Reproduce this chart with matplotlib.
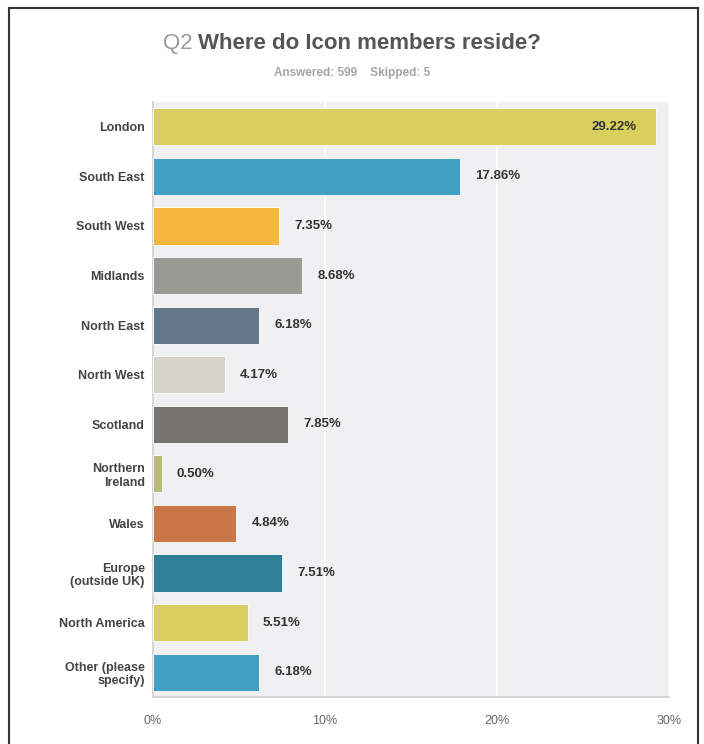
import matplotlib.pyplot as plt
from matplotlib.lines import Line2D

# Survey responses by region
regions = ['London', 'South East', 'South West', 'Midlands', 'North East',
           'North West', 'Scotland', 'Northern\nIreland', 'Wales',
           'Europe\n(outside UK)', 'North America', 'Other (please\nspecify)']
percents = [29.22, 17.86, 7.35, 8.68, 6.18, 4.17, 7.85, 0.50, 4.84, 7.51, 5.51, 6.18]
colors = ['#d9cf5f', '#42a0c4', '#f5b83d', '#9a9a94', '#62778a', '#d4d2c9',
          '#75746e', '#b8bb7a', '#c9764a', '#317f99', '#d9cf5f', '#42a0c4']
ticks = [0, 10, 20, 30]

narrow = ['Liberation Sans Narrow', 'Liberation Sans', 'DejaVu Sans']

fig = plt.figure(figsize=(7.04, 7.44), dpi=100)
ax = fig.add_axes([0.2173, 0.0632, 0.733, 0.7997])
ax.set_facecolor('#f0f0f2')

y = list(range(len(regions)))
ax.barh(y, percents, height=0.75, color=colors, edgecolor='white', linewidth=0.6, zorder=3)

for yi, v in zip(y, percents):
    label = f'{v:.2f}%'
    if v > 25:
        ax.text(v - 1.1, yi, label, ha='right', va='center', fontsize=9.5,
                fontweight='bold', color='#333333', family=narrow, zorder=4)
    else:
        ax.annotate(label, (v, yi), xytext=(11, 0), textcoords='offset points',
                    ha='left', va='center', fontsize=9.5, fontweight='bold',
                    color='#333333', family=narrow, zorder=4)

ax.set_xlim(0, 30)
ax.set_ylim(11.5, -0.5)
ax.set_xticks(ticks)
ax.set_xticklabels([f'{t}%' for t in ticks], fontsize=9, color='#666666', family=narrow)
ax.set_yticks(y)
ax.set_yticklabels(regions, fontsize=9, fontweight='bold', color='#444444', family=narrow,
                   linespacing=1.2)
ax.tick_params(axis='both', length=0)
ax.tick_params(axis='x', pad=13)
ax.tick_params(axis='y', pad=6)
ax.grid(axis='x', color='white', linewidth=1.2, zorder=1)

for side in ['top', 'right']:
    ax.spines[side].set_visible(False)
for side in ['left', 'bottom']:
    ax.spines[side].set_color('#cfcfcf')
    ax.spines[side].set_linewidth(1.2)

# Title: muted question number followed by the question text
title_y = 0.942
q_txt = fig.text(0, 0, 'Q2 ', fontsize=16, family=narrow)
main_txt = fig.text(0, 0, 'Where do Icon members reside?', fontsize=16,
                    fontweight='bold', family=narrow)
renderer = fig.canvas.get_renderer()
w_q = q_txt.get_window_extent(renderer).width / fig.bbox.width
w_main = main_txt.get_window_extent(renderer).width / fig.bbox.width
x0 = 0.5 - (w_q + w_main) / 2
q_txt.set(position=(x0, title_y), va='center', color='#9a9a9a')
main_txt.set(position=(x0 + w_q, title_y), va='center', color='#555555')

fig.text(0.5, 0.902, 'Answered: 599    Skipped: 5', ha='center', va='center',
         fontsize=8.5, fontweight='bold', color='#a5a5a5', family=narrow)

# Outer frame
frame_kw = dict(color='#333333', linewidth=1.5, transform=fig.transFigure)
fig.add_artist(Line2D([9 / 704, 9 / 704], [0, 1 - 8 / 744], **frame_kw))
fig.add_artist(Line2D([698 / 704, 698 / 704], [0, 1 - 8 / 744], **frame_kw))
fig.add_artist(Line2D([9 / 704, 698 / 704], [1 - 8 / 744, 1 - 8 / 744], **frame_kw))

fig.savefig('out.png', dpi=100)
